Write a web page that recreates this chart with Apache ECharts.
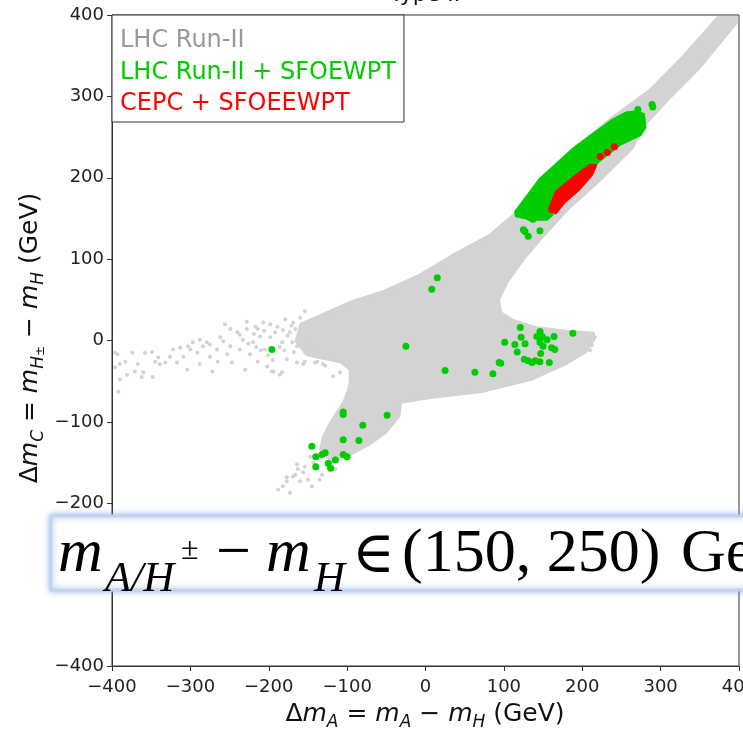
<!DOCTYPE html>
<html>
<head>
<meta charset="utf-8">
<script src="https://cdn.jsdelivr.net/npm/echarts@6/dist/echarts.min.js"></script>
<style>
  html, body { margin: 0; padding: 0; background: #fff; }
  #chart { width: 743px; height: 729px; }
</style>
</head>
<body>
<div id="chart"></div>
<script>
// outline of the dense grey (LHC Run-II) region, [dmA, dmC] in GeV
var grayBody = [
  [397,397],[397,391],[350,336],[308,295],[274,259],[265,238],[219,194],[181,161],
  [146,124],[125,100],[104,72],[93,50],[96,34],[111,25],[140,16],[181,11],[214,9],
  [215,1],[204,-14],[178,-29],[134,-48],[70,-63],[6,-70],[-32,-76],[-34,-93],
  [-51,-113],[-73,-128],[-96,-140],[-119,-149],[-134,-134],[-130,-118],[-121,-101],
  [-104,-76],[-96,-54],[-96,-36],[-108,-26],[-140,-20],[-152,-17],[-165,-1],
  [-159,20],[-140,28],[-117,38],[-96,47],[-54,60],[-10,79],[32,103],[83,130],
  [117,158],[146,195],[189,235],[239,274],[287,308],[329,349],[373,397]
];
// isolated grey points
var grayDots = [
  [-396,-15],[-396,-33],[-392,-63],[-390,-29],[-383,-26],[-381,-42],[-374,-15],[-371,-38],
  [-362,-45],[-360,-39],[-358,-15],[-349,-14],[-348,-45],[-345,-26],[-341,-21],[-332,-27],
  [-326,-20],[-322,-11],[-317,-27],[-313,-9],[-309,-20],[-304,-36],[-303,-7],[-297,-2],
  [-291,-15],[-288,-29],[-284,-7],[-279,-2],[-275,-20],[-272,-38],[-266,-11],[-265,-26],
  [-258,-1],[-256,20],[-253,-17],[-249,-7],[-247,-27],[-240,10],[-237,-11],[-233,1],
  [-230,-36],[-228,14],[-224,-17],[-220,-2],[-217,17],[-214,-26],[-211,5],[-207,22],
  [-205,-11],[-202,-32],[-198,4],[-194,-38],[-189,17],[-186,-42],[-183,-2],[-179,26],
  [-177,-23],[-173,10],[-169,22],[-164,-7],[-160,28],[-154,36],[-147,-5],[-166,14],
  [-182,13],[-198,20],[-214,14],[-228,23],[-237,7],[-249,14],[-262,4],[-275,-5],
  [-288,1],[-300,-11],[-339,-29],[-367,-29],[-390,-48],[-393,-17],
  [-154,-26],[-141,-27],[-128,-31],[-196,-38],[-183,-39],[-164,-27],[-156,-29],
  [-138,-26],[-131,-29],[-118,-44],[-109,-39],[-96,-54],
  [-166,-165],[-177,-173],[-188,-183],[-173,-187],[-182,-179],[-177,-168],[-169,-167],
  [-163,-158],[-156,-162],[-150,-171],[-145,-179],[-154,-155],[-143,-150],[-138,-158],
  [-132,-165],[-164,-152],[-137,-143],[-147,-143],[-126,-149],[-160,-173],[-135,-171],
  [-115,-158],[216,4],[212,-6],[210,-12],
  [-170,-2],[-176,6],[-186,-8],[-192,10],[-201,-18],[-210,-12],[-219,8],[-226,-4],
  [-171,18],[-180,-12],[-195,-24],[-206,12],[-216,-8],[-160,10],[-168,-14]
];
// dense green (LHC Run-II + SFOEWPT) band outline
var greenBand = [
  [115,158],[146,198],[188,235],[239,271],[257,280],[270,281],[278,278],[280,262],
  [274,253],[248,241],[219,219],[206,201],[188,186],[168,161],[155,149],[137,149],[121,152]
];
var greenDots = [
  [-196,-11],[15,77],[8,63],[-25,-7],[25,-37],[63,-39],[86,-41],[94,-27],[96,-28],
  [101,-2],[114,-5],[117,-14],[121,16],[122,4],[127,-4],[126,-23],[131,-25],[136,-27],
  [140,-25],[146,-26],[158,-27],[142,5],[146,11],[149,5],[146,-2],[150,-7],[155,1],
  [161,-9],[165,-11],[164,5],[147,-16],[188,9],
  [127,134],[131,128],[146,135],[121,157],[137,149],[142,152],[133,151],[118,155],[125,136],
  [-105,-88],[-105,-91],[-49,-92],[-80,-104],[-105,-122],[-85,-123],[-145,-130],
  [-140,-143],[-132,-140],[-128,-138],[-115,-147],[-105,-140],[-100,-143],[-124,-151],
  [-140,-155],[-121,-157],
  [289,290],[290,287],[271,284]
];
// dense red (CEPC + SFOEEWPT) outline and isolated red points
var redBand = [
  [159,163],[167,183],[179,192],[194,204],[210,215],[217,215],[212,204],[196,186],[177,170],[166,157]
];
var redDots = [[223,226],[232,231],[241,238],[161,161],[164,167]];

var axisTicks = [-400, -300, -200, -100, 0, 100, 200, 300, 400];

var GRAY = '#d3d3d3', GREEN = '#00cc00', RED = '#ff0000';

function polygonSeries(name, pts, color, z) {
  return {
    name: name,
    type: 'custom',
    z: z,
    silent: true,
    data: pts,
    encode: { x: 0, y: 1 },
    renderItem: function (params, api) {
      if (params.dataIndex !== 0) return;
      var points = pts.map(function (p) { return api.coord(p); });
      return {
        type: 'polygon',
        shape: { points: points },
        style: { fill: color, stroke: color, lineWidth: 3, lineJoin: 'round' }
      };
    }
  };
}

function dotSeries(name, pts, color, size, z) {
  return {
    name: name,
    type: 'scatter',
    z: z,
    silent: true,
    symbolSize: size,
    itemStyle: { color: color, opacity: 1 },
    data: pts
  };
}

function minus(v) { return String(v).replace('-', '\u2212'); }

var tickFont = { fontFamily: 'DejaVu Sans', fontSize: 18, color: '#222' };

// one piece of the pasted formula
function tex(text, font, x, y) {
  return {
    type: 'text', x: x, y: y, z: 101, zlevel: 1,
    style: { text: text, font: font, fill: '#000', verticalAlign: 'middle' }
  };
}

var mathRich = {
  n: { fontFamily: 'DejaVu Sans', fontSize: 25, lineHeight: 34, fill: '#111' },
  i: { fontFamily: 'DejaVu Sans', fontStyle: 'italic', fontSize: 25, lineHeight: 34, fill: '#111' },
  s: { fontFamily: 'DejaVu Sans', fontStyle: 'italic', fontSize: 17, lineHeight: 18, verticalAlign: 'bottom', fill: '#111' },
  p: { fontFamily: 'DejaVu Sans', fontSize: 12, lineHeight: 25, verticalAlign: 'bottom', fill: '#111' }
};

var myChart = echarts.init(document.getElementById('chart'));

var option = {
  animation: false,
  grid: {
    left: 112, right: 4, top: 15, bottom: 63,
    outerBoundsMode: 'none', containLabel: false,
    show: true, borderColor: '#333', borderWidth: 1, backgroundColor: 'transparent'
  },
  xAxis: {
    type: 'value', min: axisTicks[0], max: axisTicks[axisTicks.length - 1], interval: 100,
    splitLine: { show: false },
    axisLine: { show: true, onZero: false, lineStyle: { color: '#333', width: 1 } },
    axisTick: { show: true, length: 5, lineStyle: { color: '#333' } },
    axisLabel: Object.assign({ margin: 12, formatter: minus, showMaxLabel: true, hideOverlap: false }, tickFont)
  },
  yAxis: {
    type: 'value', min: axisTicks[0], max: axisTicks[axisTicks.length - 1], interval: 100,
    splitLine: { show: false },
    axisLine: { show: true, onZero: false, lineStyle: { color: '#333', width: 1 } },
    axisTick: { show: true, length: 5, lineStyle: { color: '#333' } },
    axisLabel: Object.assign({ margin: 8, formatter: minus }, tickFont)
  },
  legend: {
    left: 112, top: 15, orient: 'vertical',
    icon: 'none', itemWidth: 0, itemHeight: 24, itemGap: 7.5,
    padding: [14, 8, 6, 3],
    backgroundColor: '#fff', borderColor: '#333', borderWidth: 1,
    selectedMode: false,
    textStyle: { fontFamily: 'DejaVu Sans', fontSize: 24 },
    data: [
      { name: 'LHC Run-II', textStyle: { color: '#999999' } },
      { name: 'LHC Run-II + SFOEWPT', textStyle: { color: GREEN } },
      { name: 'CEPC + SFOEEWPT', textStyle: { color: RED } }
    ]
  },
  series: [
    polygonSeries('LHC Run-II', grayBody, GRAY, 1),
    dotSeries('LHC Run-II', grayDots, GRAY, 4, 1),
    polygonSeries('LHC Run-II + SFOEWPT', greenBand, GREEN, 2),
    dotSeries('LHC Run-II + SFOEWPT', greenDots, GREEN, 7, 2),
    polygonSeries('CEPC + SFOEEWPT', redBand, RED, 3),
    dotSeries('CEPC + SFOEEWPT', redDots, RED, 7, 3)
  ],
  graphic: [
    // title, mostly cut off at the top
    {
      type: 'text', x: 425, y: -5, z: 10,
      style: { text: 'Type II', fontFamily: 'DejaVu Sans', fontSize: 22, fill: '#111', align: 'center', verticalAlign: 'middle' }
    },
    // x axis name
    {
      type: 'text', x: 425, y: 714, z: 10,
      style: {
        text: '{n|\u0394}{i|m}{s|A}{n| = }{i|m}{s|A}{n| \u2212 }{i|m}{s|H}{n| (GeV)}',
        align: 'center', verticalAlign: 'middle', rich: mathRich
      }
    },
    // y axis name
    {
      type: 'text', x: 30, y: 338, rotation: Math.PI / 2, z: 10,
      style: {
        text: '{n|\u0394}{i|m}{s|C}{n| = }{i|m}{s|H}{p|\u00b1}{n| \u2212 }{i|m}{s|H}{n| (GeV)}',
        align: 'center', verticalAlign: 'middle', rich: mathRich
      }
    },
    // pasted formula box over the lower part of the plot
    {
      type: 'rect', z: 100, zlevel: 1,
      shape: { x: 51, y: 516, width: 720, height: 74 },
      style: { fill: '#fff', stroke: '#c3d4f0', lineWidth: 3, shadowBlur: 6, shadowColor: 'rgba(120,160,225,0.7)' }
    },
    tex('m', 'italic 62px "Liberation Serif"', 58, 555),
    tex('A/H', 'italic 43px "Liberation Serif"', 105, 580),
    tex('\u00b1', '32px "Liberation Serif"', 181, 551),
    tex('\u2212', '62px "Liberation Serif"', 216, 555),
    tex('m', 'italic 62px "Liberation Serif"', 266, 555),
    tex('H', 'italic 43px "Liberation Serif"', 314, 580),
    tex('\u2208', '58px "DejaVu Serif"', 352, 557),
    tex('(150, 250)', '62px "Liberation Serif"', 402, 555),
    tex('GeV', '62px "Liberation Serif"', 681, 555)
  ]
};

myChart.setOption(option);
</script>
</body>
</html>
